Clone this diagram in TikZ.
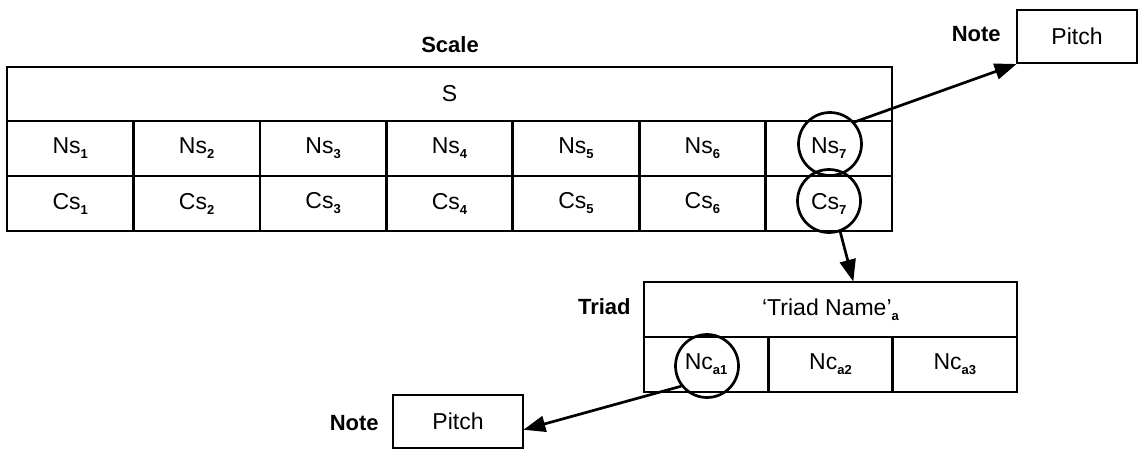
\documentclass[tikz,border=0pt]{standalone}
\usepackage{fontspec}
\setmainfont{Liberation Sans}
\usetikzlibrary{arrows.meta,calc}
% subscript in the diagram's sans face
\newcommand{\subx}[1]{\raisebox{-5pt}{\fontsize{13}{13}\selectfont\bfseries #1}}
\begin{document}
\begin{tikzpicture}[x=1pt,y=-1pt,
  line width=2.7pt,
  txt/.style={font=\fontsize{23}{26}\selectfont, inner sep=0pt},
  lbl/.style={font=\fontsize{22}{26}\selectfont\bfseries, inner sep=0pt},
  cell/.style={draw, txt, minimum height=55pt, minimum width=126.43pt, inner sep=0pt},
  tcell/.style={draw, txt, minimum height=55pt, minimum width=124.33pt, inner sep=0pt},
  ring/.style={draw, circle, minimum size=63pt, inner sep=0pt},
  box/.style={draw, txt, minimum height=53pt, inner sep=0pt},
  arr/.style={-{Triangle[length=22pt,width=16pt]}, line width=2.7pt, shorten >=-1pt}]
\useasboundingbox (0,0) rectangle (1140,450);

% scale table
\node[lbl] (scale) at (450,45) {Scale};
\node[draw, txt, minimum width=885pt, minimum height=54pt] (s) at (449.5,94) {S};
\foreach \i in {1,...,7}{
  \node[cell] (ns\i) at ({7+126.43*(\i-0.5)},148.5) {Ns\subx{\i}};
  \node[cell] (cs\i) at ({7+126.43*(\i-0.5)},203.5) {Cs\subx{\i}};
}
\node[ring] (ns7c) at (830,144) {};
\node[ring] (cs7c) at (829,201) {};

% note at the top right
\node[box, minimum width=120pt] (pitchA) at (1077,36.5) {Pitch};
\node[lbl, anchor=east] (noteA) at (1002,34) {Note};

% triad table
\node[lbl, anchor=east] (triad) at (632,307) {Triad};
\node[draw, txt, minimum width=373pt, minimum height=55pt] (tname) at (830.5,309.5) {`Triad Name'\subx{a}};
\foreach \i in {1,2,3}{
  \node[tcell] (nc\i) at ({644+124.33*(\i-0.5)},364.5) {Nc\subx{a\i}};
}
\node[ring] (nc1c) at (707,366) {};

% note at the bottom
\node[box, minimum width=130pt] (pitchB) at (458,421.5) {Pitch};
\node[lbl, anchor=east] (noteB) at (380,423) {Note};

% connectors
\draw[arr] (ns7c.42) -- (pitchA.south west);
\draw[arr] (cs7c.-70) -- ($(tname.north west)!0.56!(tname.north east)$);
\draw[arr] (nc1c.218) -- ($(pitchB.east)+(0,8)$);
\end{tikzpicture}
\end{document}
